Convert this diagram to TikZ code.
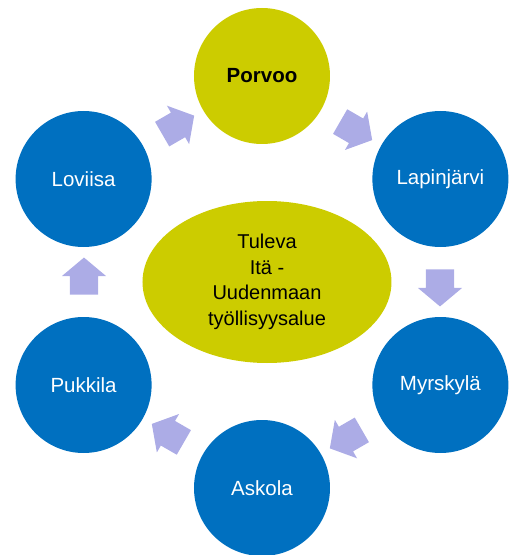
\documentclass[tikz,border=0pt]{standalone}
\usepackage{fontspec}
\setmainfont{Liberation Sans}
\usetikzlibrary{shapes.geometric,shapes.arrows}
\definecolor{kuntasin}{RGB}{0,112,192}
\definecolor{keltainen}{RGB}{204,204,0}
\definecolor{nuolivari}{RGB}{172,172,230}
\begin{document}
\begin{tikzpicture}[x=1pt,y=1pt]
\tikzset{kunta/.style = {circle, fill=kuntasin, text=white, minimum size=136pt, inner sep=0pt, font=\fontsize{20.5}{24}\selectfont},
  nuoli/.style = {single arrow, fill=nuolivari, draw=none, inner xsep=0pt, inner ysep=14pt, minimum height=37pt, single arrow head extend=8pt, single arrow tip angle=100}}
\useasboundingbox (-262,-273) rectangle (250,282);
\node[kunta, fill=keltainen, text=black, font=\fontsize{20.5}{24}\selectfont\bfseries] (porvoo) at (90:206) {Porvoo};
\node[kunta] (lapinjarvi) at (30:206) {Lapinjärvi};
\node[kunta] (myrskyla) at (-30:206) {Myrskylä};
\node[kunta] (askola) at (-90:206) {Askola};
\node[kunta] (pukkila) at (-150:206) {Pukkila};
\node[kunta] (loviisa) at (150:206) {Loviisa};
\node[ellipse, fill=keltainen, minimum width=249pt, minimum height=162pt, inner sep=0pt, align=center, font=\fontsize{20}{25.5}\selectfont] (keskus) at (5,0) {Tuleva\\Itä -\\Uudenmaan\\työllisyysalue};
% nuolet kuntien valissa
\foreach \kulma/\nimi in {60/n1, 0/n2, -60/n3, -120/n4, 180/n5, 120/n6}
  \node[nuoli, rotate=\kulma-90] (\nimi) at (\kulma:178) {};
\end{tikzpicture}
\end{document}
